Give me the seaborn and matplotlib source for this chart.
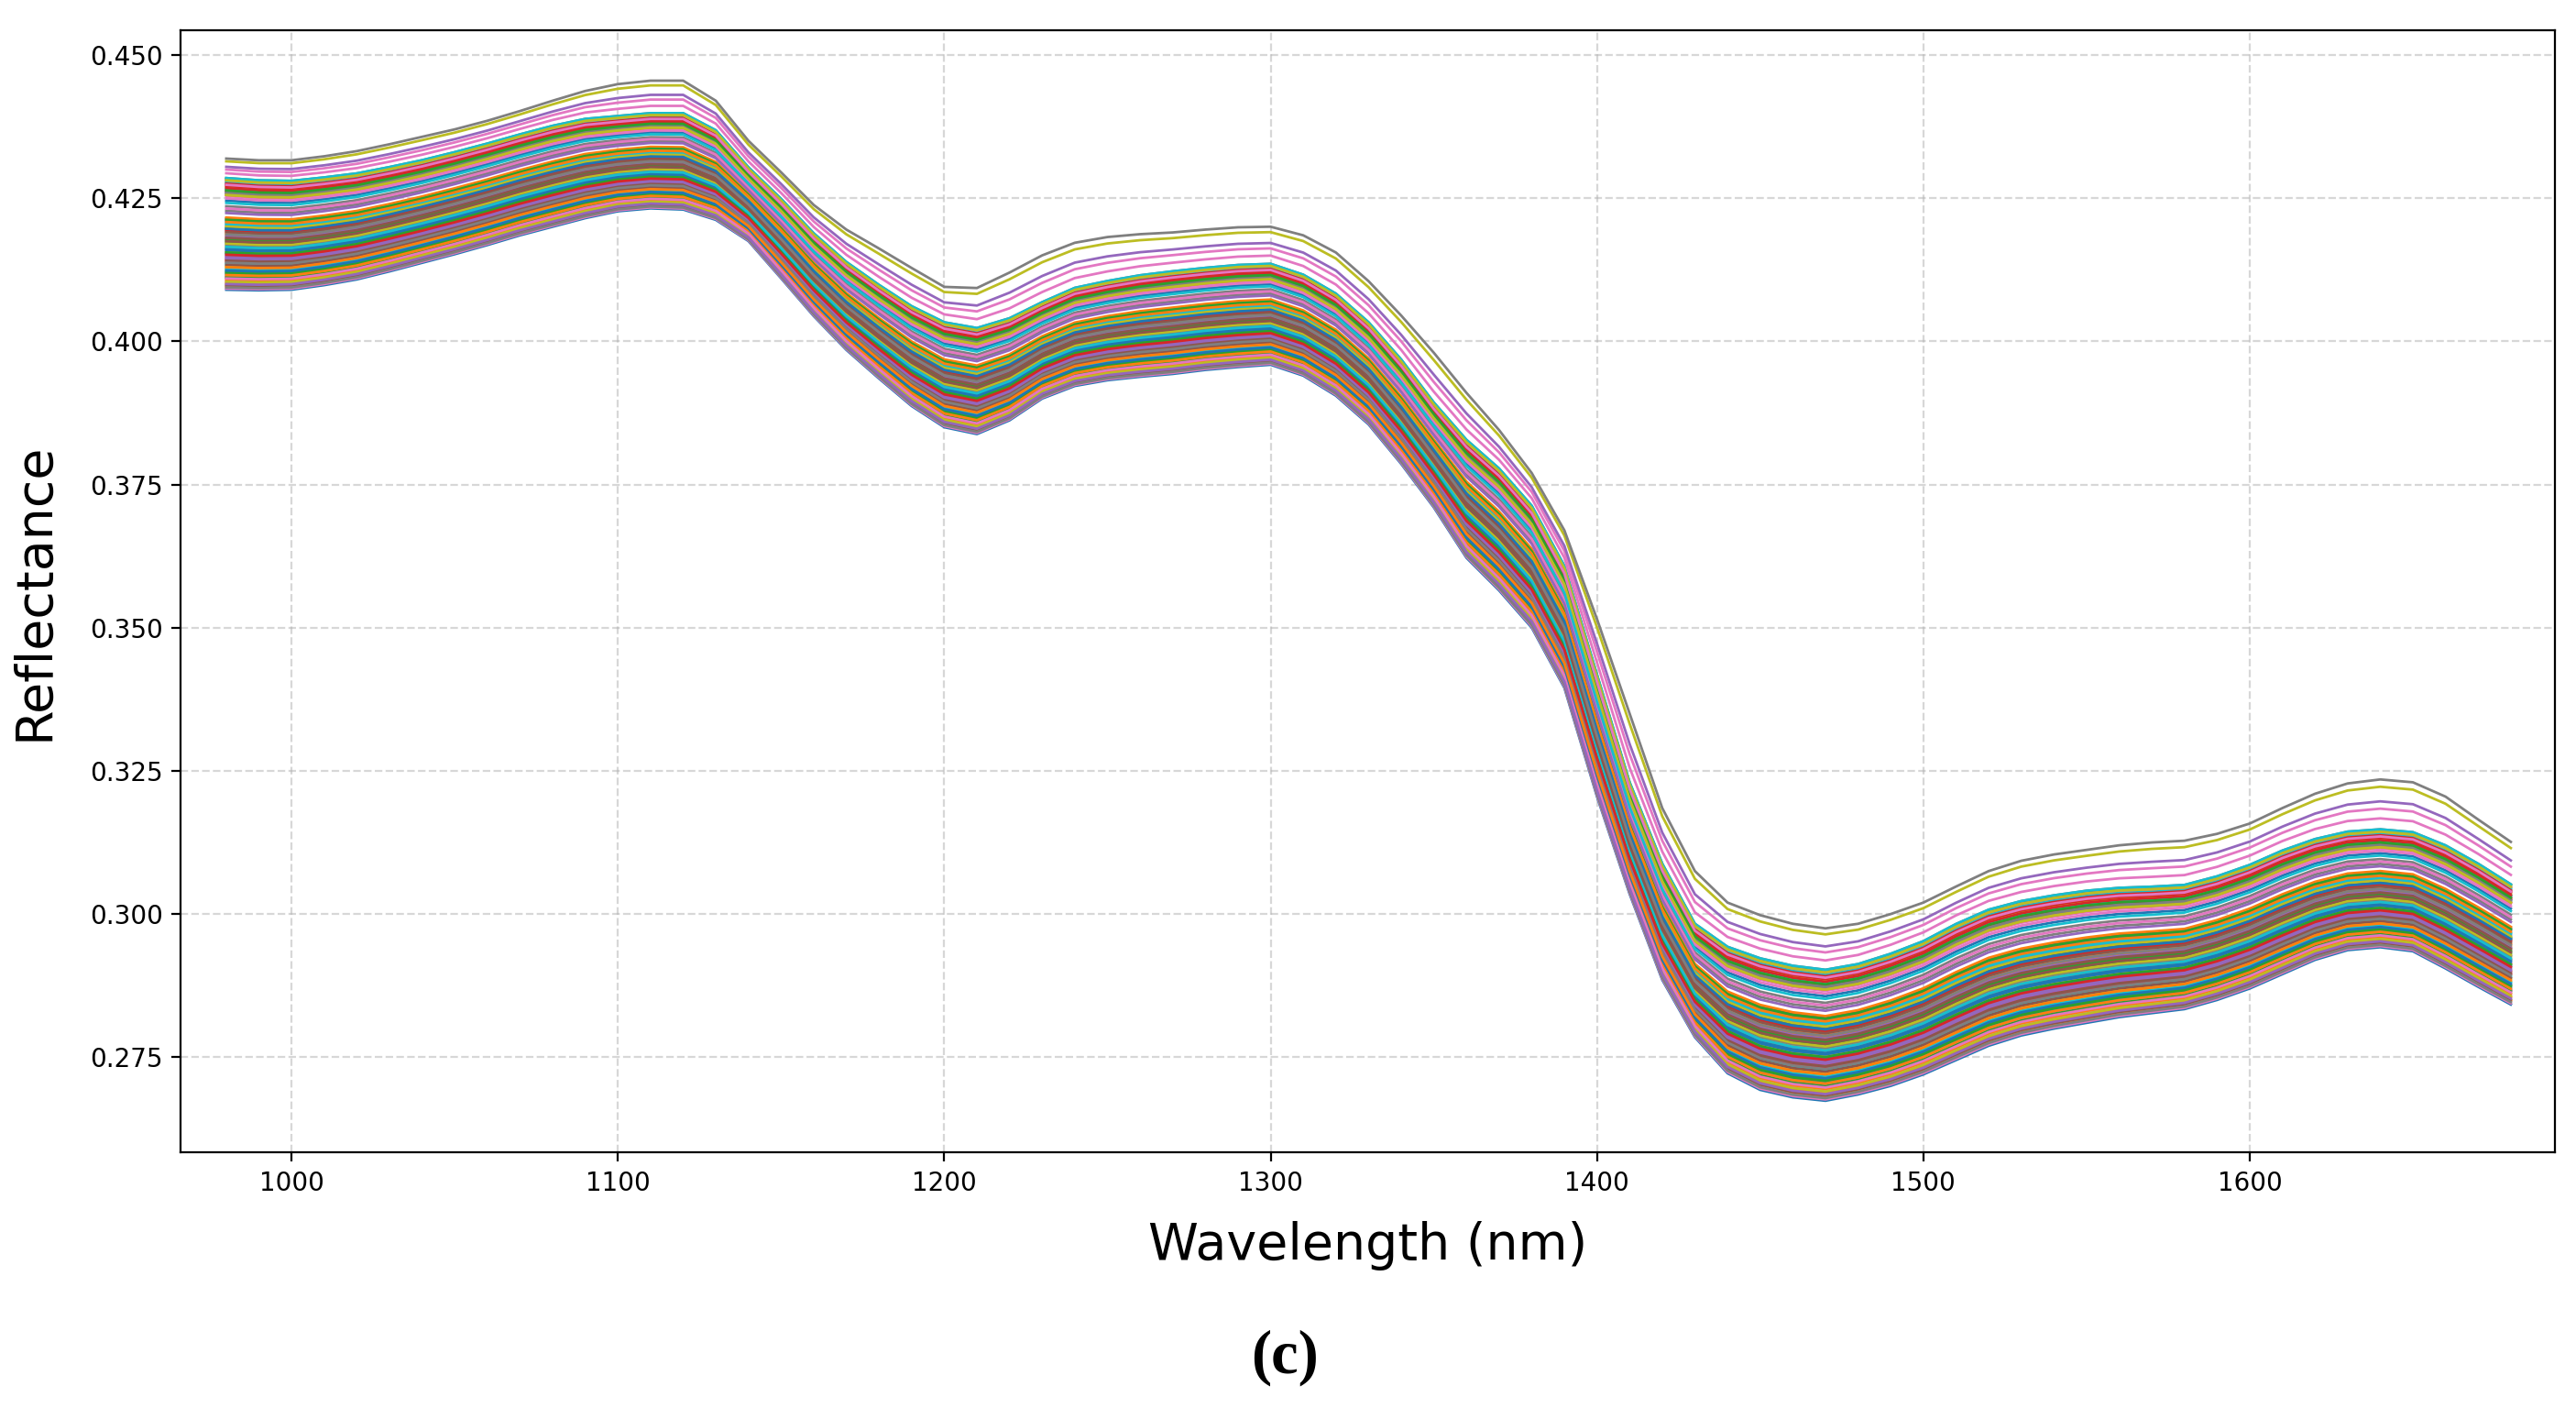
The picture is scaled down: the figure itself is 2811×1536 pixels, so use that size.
import numpy as np
import pandas as pd
import matplotlib
matplotlib.use("Agg")
import matplotlib.pyplot as plt
import seaborn as sns

# ---- data -------------------------------------------------------------------
wavelength = list(range(980, 1681, 10))

# upper envelope of the spectra
upper = [0.4319, 0.4316, 0.4316, 0.4323, 0.4332, 0.4344, 0.4357, 0.4370, 0.4385, 0.4402,
         0.4420, 0.4437, 0.4449, 0.4455, 0.4455, 0.4420, 0.4350, 0.4295, 0.4238, 0.4195,
         0.4162, 0.4128, 0.4095, 0.4093, 0.4120, 0.4150, 0.4172, 0.4182, 0.4187, 0.4190,
         0.4195, 0.4199, 0.4200, 0.4185, 0.4155, 0.4105, 0.4045, 0.3980, 0.3910, 0.3845,
         0.3770, 0.3670, 0.3515, 0.3350, 0.3185, 0.3075, 0.3020, 0.2998, 0.2983, 0.2975,
         0.2983, 0.3000, 0.3020, 0.3048, 0.3075, 0.3093, 0.3104, 0.3112, 0.3120, 0.3125,
         0.3128, 0.3140, 0.3158, 0.3185, 0.3210, 0.3228, 0.3235, 0.3230, 0.3205, 0.3165,
         0.3126]

# top of the dense bundle of spectra
middle = [0.4287, 0.4283, 0.4282, 0.4288, 0.4295, 0.4306, 0.4318, 0.4332, 0.4347, 0.4363,
          0.4378, 0.4390, 0.4395, 0.4400, 0.4400, 0.4370, 0.4305, 0.4250, 0.4190, 0.4140,
          0.4100, 0.4063, 0.4035, 0.4025, 0.4042, 0.4070, 0.4095, 0.4107, 0.4117, 0.4124,
          0.4130, 0.4135, 0.4137, 0.4118, 0.4085, 0.4035, 0.3970, 0.3895, 0.3830, 0.3780,
          0.3715, 0.3610, 0.3420, 0.3232, 0.3090, 0.2985, 0.2945, 0.2925, 0.2912, 0.2905,
          0.2915, 0.2933, 0.2955, 0.2985, 0.3010, 0.3025, 0.3035, 0.3043, 0.3048, 0.3050,
          0.3053, 0.3068, 0.3088, 0.3113, 0.3133, 0.3146, 0.3150, 0.3145, 0.3122, 0.3090,
          0.3054]

# lower envelope of the spectra
lower = [0.4090, 0.4089, 0.4090, 0.4098, 0.4108, 0.4122, 0.4137, 0.4152, 0.4168, 0.4185,
         0.4200, 0.4215, 0.4227, 0.4232, 0.4230, 0.4212, 0.4175, 0.4110, 0.4044, 0.3985,
         0.3935, 0.3887, 0.3850, 0.3838, 0.3862, 0.3900, 0.3922, 0.3932, 0.3938, 0.3943,
         0.3950, 0.3955, 0.3959, 0.3940, 0.3905, 0.3855, 0.3786, 0.3710, 0.3622, 0.3565,
         0.3500, 0.3395, 0.3205, 0.3035, 0.2885, 0.2785, 0.2722, 0.2693, 0.2680, 0.2674,
         0.2685, 0.2700, 0.2720, 0.2745, 0.2770, 0.2788, 0.2800, 0.2810, 0.2820, 0.2827,
         0.2834, 0.2850, 0.2870, 0.2895, 0.2920, 0.2937, 0.2942, 0.2935, 0.2905, 0.2873,
         0.2842]

# relative position of each sample inside the dense bundle (0 = lower, 1 = top of bundle)
dense_levels = [
    0.00, 0.50, 0.16, 0.88, 0.30, 0.63, 0.08, 0.96, 0.39, 0.23,
    0.79, 0.03, 0.55, 0.93, 0.12, 0.45, 0.34, 0.99, 0.19, 0.59,
    0.85, 0.06, 0.42, 0.27, 0.94, 0.53, 0.11, 0.70, 0.33, 0.90,
    0.14, 0.48, 0.98, 0.25, 0.57, 0.04, 0.83, 0.37, 0.91, 0.18,
    0.61, 0.09, 0.44, 0.87, 0.29, 0.54, 0.01, 0.74, 0.21, 0.95,
    0.35, 0.64, 0.11, 0.52, 0.86, 0.26, 0.97, 0.40, 0.07, 0.58,
    0.32, 0.84, 0.15, 0.92, 0.47, 0.22, 0.72, 0.02, 0.56, 0.89,
    0.36, 0.13, 0.62, 0.94, 0.28, 0.51, 0.10, 0.86, 0.41, 0.99,
    0.17, 0.60, 0.33, 0.90, 0.05, 0.46, 0.81, 0.24, 0.97, 0.38,
    0.54, 0.20, 0.88, 0.31, 0.68, 0.43, 0.93, 0.49, 0.84, 0.77,
]

# samples above the dense bundle (0 = top of bundle, 1 = upper envelope)
sparse_levels = [0.20, 0.40, 0.55, 0.85, 1.00]
sparse_colors = ["tab:pink", "tab:pink", "tab:purple", "tab:olive", "tab:gray"]

x_ticks = [1000, 1100, 1200, 1300, 1400, 1500, 1600]
y_ticks = [0.275, 0.300, 0.325, 0.350, 0.375, 0.400, 0.425, 0.450]

# ---- build long table ---------------------------------------------------------
wl = np.array(wavelength, dtype=float)
up = np.array(upper)
md = np.array(middle)
lo = np.array(lower)
tab10 = sns.color_palette("tab10", 10)

frames, palette, order = [], {}, []
for i, f in enumerate(dense_levels):
    name = f"d{i:03d}"
    frames.append(pd.DataFrame({"wavelength": wl, "reflectance": lo + f * (md - lo), "sample": name}))
    palette[name] = tab10[i % 10]
    order.append(name)
for j, (s, c) in enumerate(zip(sparse_levels, sparse_colors)):
    name = f"s{j}"
    frames.append(pd.DataFrame({"wavelength": wl, "reflectance": md + s * (up - md), "sample": name}))
    palette[name] = c
    order.append(name)
df = pd.concat(frames, ignore_index=True)

# ---- plot ---------------------------------------------------------------------
fig = plt.figure(figsize=(14.055, 7.68), dpi=200)
ax = fig.add_axes([0.0701, 0.1816, 0.9217, 0.7969])

sns.lineplot(data=df, x="wavelength", y="reflectance", hue="sample", hue_order=order,
             palette=palette, estimator=None, legend=False, linewidth=1.0,
             sort=False, ax=ax)

ax.set_xlim(966, 1693.5)
ax.set_ylim(0.2584, 0.4543)
ax.set_xticks(x_ticks)
ax.set_yticks(y_ticks)
ax.set_yticklabels([f"{v:.3f}" for v in y_ticks])
ax.tick_params(labelsize=10)
ax.grid(True, linestyle="--", linewidth=0.8, alpha=0.5)
ax.set_axisbelow(True)
for sp in ax.spines.values():
    sp.set_linewidth(0.8)
    sp.set_color("black")

ax.set_xlabel("Wavelength (nm)", fontsize=20, labelpad=10)
ax.set_ylabel("Reflectance", fontsize=20, labelpad=12)

fig.text(0.4987, 0.036, "(c)", fontsize=24, fontweight="bold",
         family=["Liberation Serif", "DejaVu Serif"], ha="center", va="center")

fig.savefig("out.png", dpi=200, facecolor="white")
